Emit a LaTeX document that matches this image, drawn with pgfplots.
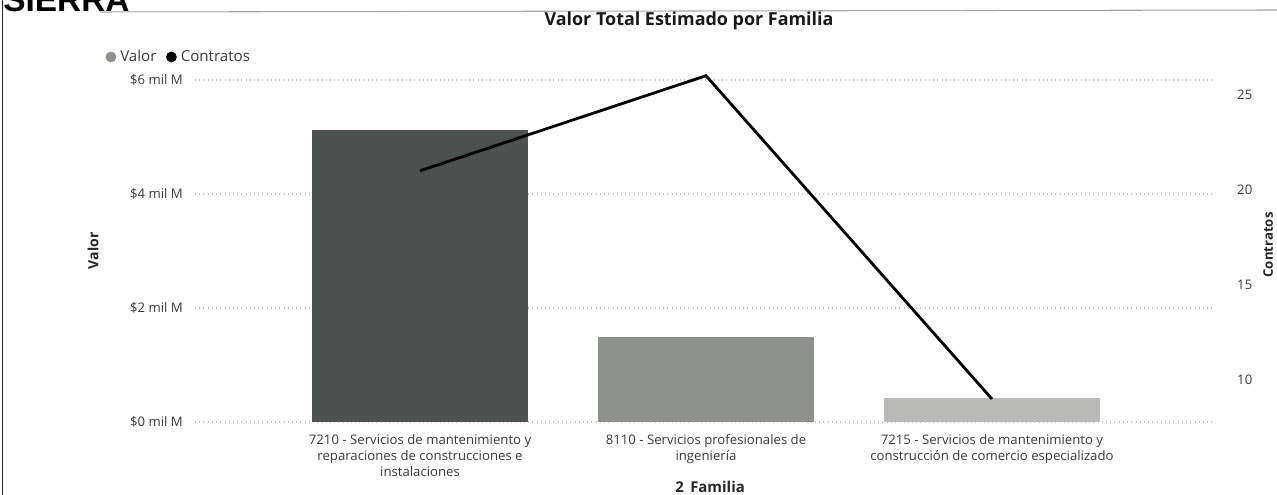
\documentclass[border=0pt]{standalone}
\usepackage{pgfplots}
\pgfplotsset{compat=1.18}
\usepackage{fontspec}
\setmainfont{Open Sans}
\newfontfamily\sierrafont{Liberation Sans}
\definecolor{barA}{HTML}{4B514E}
\definecolor{barB}{HTML}{8E908C}
\definecolor{barC}{HTML}{B9BAB7}
\definecolor{txt}{HTML}{3A3A3A}
\definecolor{gridc}{HTML}{C8C8C8}

\begin{document}
\begin{tikzpicture}
\useasboundingbox (0,0) rectangle (25.54,9.9);
% page frame remnants of the scan
\draw[black!85, line width=1pt] (0.05,0) -- (0.05,9.9);
\draw[black!35, line width=0.6pt] (2.0,9.66) -- (25.54,9.7);
\node[anchor=base west, inner sep=0pt, font=\sierrafont\bfseries\fontsize{19}{19}\selectfont] at (0.06,9.66) {SIERRA};
\node[font=\bfseries\fontsize{10.2}{11}\selectfont, text=black!90] at (13.78,9.48) {Valor Total Estimado por Familia};

\begin{axis}[
  at={(3.9cm,1.46cm)}, anchor=south west, scale only axis,
  width=20.4cm, height=7.04cm,
  xmin=-0.787, xmax=2.78, ymin=0, ymax=6.175,
  axis line style={draw=none}, major tick length=0pt,
  ytick={0,2,4,6},
  yticklabels={\$0 mil M,\$2 mil M,\$4 mil M,\$6 mil M},
  ymajorgrids, grid style={gridc, dotted, line width=0.7pt},
  xtick={0,1,2},
  xticklabels={{7210 - Servicios de mantenimiento y\\reparaciones de construcciones e\\instalaciones},
               {8110 - Servicios profesionales de\\ingeniería},
               {7215 - Servicios de mantenimiento y\\construcción de comercio especializado}},
  xticklabel style={align=center, font=\fontsize{7.5}{9.1}\selectfont, text=txt, yshift=-0.12cm},
  yticklabel style={font=\fontsize{7.5}{9}\selectfont, text=txt, xshift=-0.12cm},
  ylabel={Valor},
  ylabel style={at={(axis description cs:-0.1,0.486)}, anchor=center, rotate=0,
                font=\bfseries\fontsize{8}{9}\selectfont, text=black!85},
  xlabel={2\, Familia},
  xlabel style={at={(axis description cs:0.505,-0.185)}, anchor=center,
                font=\bfseries\fontsize{8.5}{9}\selectfont, text=black!85},
  legend columns=2,
  legend style={at={(axis description cs:-0.088,1.037)}, anchor=west, draw=none, fill=none,
                font=\fontsize{8.6}{9}\selectfont, text=txt, inner sep=0pt,
                /tikz/every odd column/.append style={column sep=0.01cm},
                /tikz/every even column/.append style={column sep=0.12cm}},
  legend image code/.code={\fill (0.1cm,0cm) circle (0.1cm);},
]
\addlegendimage{barB}
\addlegendentry{Valor}
\addlegendimage{black}
\addlegendentry{Contratos}
\addplot[ybar, bar width=4.32cm, bar shift=0pt, fill=barA, draw=none, forget plot] coordinates {(0,5.12)};
\addplot[ybar, bar width=4.32cm, bar shift=0pt, fill=barB, draw=none, forget plot] coordinates {(1,1.49)};
\addplot[ybar, bar width=4.32cm, bar shift=0pt, fill=barC, draw=none, forget plot] coordinates {(2,0.42)};
\end{axis}

\begin{axis}[
  at={(3.9cm,1.46cm)}, anchor=south west, scale only axis,
  width=20.4cm, height=7.04cm,
  xmin=-0.787, xmax=2.78, ymin=7.79, ymax=26.3,
  axis line style={draw=none}, major tick length=0pt,
  xtick=\empty,
  ytick={10,15,20,25}, yticklabels={10,15,20,25}, yticklabel pos=right,
  yticklabel style={font=\fontsize{7.5}{9}\selectfont, text=txt, xshift=0.32cm},
  ylabel={Contratos},
  ylabel style={at={(axis description cs:1.052,0.503)}, anchor=center, rotate=0,
                font=\bfseries\fontsize{7.5}{9}\selectfont, text=black!85},
]
\addplot[black, line width=1.6pt] coordinates {(0,21) (1,26) (2,9)};
\end{axis}
\end{tikzpicture}
\end{document}
